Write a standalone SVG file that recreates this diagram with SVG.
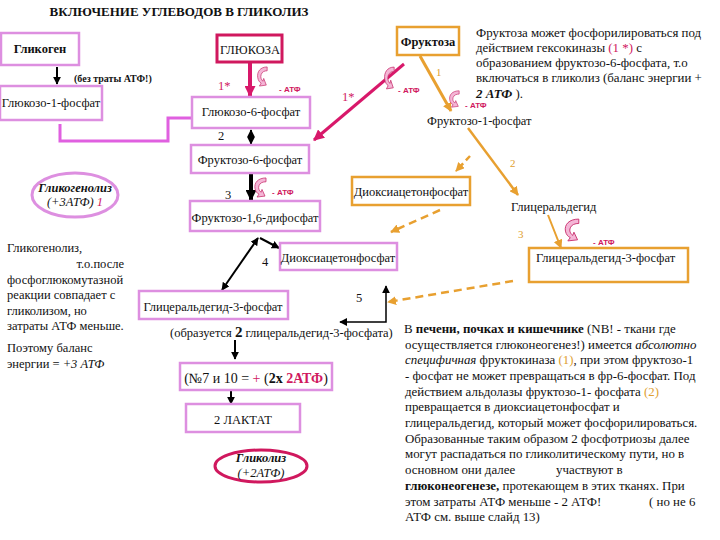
<svg xmlns="http://www.w3.org/2000/svg" xmlns:xlink="http://www.w3.org/1999/xlink" width="720" height="540" viewBox="0 0 720 540">
<style>
text{font-family:"Liberation Serif","Times New Roman",serif;fill:#111;}
.t{font-size:12.5px;}
.s{font-size:12.5px;}
.n{font-size:12.9px;}
.b{font-weight:bold;}
.i{font-style:italic;}
text.atf{font-family:"Liberation Sans",Arial,sans-serif;font-size:8px;font-weight:bold;fill:#d0185e;}
.cr{fill:#d0185e;}
.or{fill:#e0a030;}
.vbox{fill:#fff;stroke:#dd8fe0;stroke-width:2.5;}
.obox{fill:#fff;stroke:#e8a030;stroke-width:2.5;}
.cbox{fill:#fff;stroke:#d0185e;stroke-width:3;}
.blk{stroke:#000;fill:none;}
.crl{stroke:#d8186a;fill:none;}
.orl{stroke:#e8a030;fill:none;}
.mid{text-anchor:middle;}
</style>
<defs>
<marker id="ab" viewBox="0 0 10 10" refX="9" refY="5" markerWidth="8" markerHeight="8" markerUnits="userSpaceOnUse" orient="auto-start-reverse"><path d="M0,0L10,5L0,10Z" fill="#000"/></marker>
<marker id="abw" viewBox="0 0 10 10" refX="9" refY="5" markerWidth="11" markerHeight="11" markerUnits="userSpaceOnUse" orient="auto"><path d="M0,0L10,5L0,10Z" fill="#000"/></marker>
<marker id="ac" viewBox="0 0 10 10" refX="9" refY="5" markerWidth="11" markerHeight="11" markerUnits="userSpaceOnUse" orient="auto"><path d="M0,0L10,5L0,10Z" fill="#d8186a"/></marker>
<marker id="ao" viewBox="0 0 10 10" refX="9" refY="5" markerWidth="9" markerHeight="9" markerUnits="userSpaceOnUse" orient="auto"><path d="M0,0L10,5L0,10Z" fill="#e8a030"/></marker>
<marker id="am" viewBox="0 0 10 10" refX="9" refY="5" markerWidth="10" markerHeight="10" markerUnits="userSpaceOnUse" orient="auto"><path d="M0,0L10,5L0,10Z" fill="#e060e0"/></marker>
<symbol id="curl" viewBox="0 0 14 22" preserveAspectRatio="none">
<path d="M13,1C5,1 1,6 2,12C2.5,15 4,17 6,18L4,21L12,20L9,13L8,16C6,14 5,12 6,9C7,6 10,5 13,5Z" fill="#f4b6d6" stroke="#c8306e" stroke-width="0.8"/>
</symbol>
</defs>
<rect width="720" height="540" fill="#fff"/>

<text x="179" y="16" class="b mid" style="font-size:13px">ВКЛЮЧЕНИЕ УГЛЕВОДОВ В ГЛИКОЛИЗ</text>

<g id="connectors">
<line x1="57" y1="67" x2="57" y2="84" class="blk" stroke-width="2" marker-end="url(#ab)"/>
<polyline points="60,124 60,141 168,141 168,118 212,118" stroke="#e060e0" stroke-width="3" fill="none" marker-end="url(#am)"/>
<line x1="250" y1="63" x2="250" y2="96" class="crl" stroke-width="4" marker-end="url(#ac)"/>
<line x1="251" y1="130" x2="251" y2="144" class="blk" stroke-width="2" marker-start="url(#ab)" marker-end="url(#ab)"/>
<line x1="251" y1="174" x2="251" y2="200" class="blk" stroke-width="4" marker-end="url(#abw)"/>
<line x1="258" y1="238" x2="222" y2="290" class="blk" stroke-width="2" marker-start="url(#ab)" marker-end="url(#ab)"/>
<line x1="260" y1="238" x2="279" y2="248" class="blk" stroke-width="2" marker-end="url(#ab)"/>
<polyline points="340,322 386,322 386,286" class="blk" stroke-width="1.5" marker-start="url(#ab)" marker-end="url(#ab)"/>
<line x1="235" y1="340" x2="235" y2="359" class="blk" stroke-width="2" marker-end="url(#ab)"/>
<line x1="231" y1="390" x2="231" y2="404" class="blk" stroke-width="2" marker-end="url(#ab)"/>
<line x1="404" y1="64" x2="314" y2="140" class="crl" stroke-width="3" marker-end="url(#ac)"/>
<line x1="420" y1="56" x2="451" y2="111" class="orl" stroke-width="3" marker-end="url(#ao)"/>
<line x1="468" y1="128" x2="518" y2="195" class="orl" stroke-width="2.5" marker-end="url(#ao)"/>
<line x1="548" y1="215" x2="561" y2="248" class="orl" stroke-width="2" marker-end="url(#ao)"/>
<line x1="470" y1="156" x2="456" y2="171" class="orl" stroke-width="2.5" stroke-dasharray="6,4" marker-end="url(#ao)"/>
<line x1="440" y1="210" x2="391" y2="232" class="orl" stroke-width="2.5" stroke-dasharray="8,5" marker-end="url(#ao)"/>
<line x1="513" y1="281" x2="388" y2="302" class="orl" stroke-width="2.5" stroke-dasharray="8,5" marker-end="url(#ao)"/>
</g>

<g id="curls">
<use xlink:href="#curl" x="256" y="66" width="12" height="21"/>
<use xlink:href="#curl" x="253" y="177" width="14" height="21"/>
<use xlink:href="#curl" x="383" y="66" width="12" height="24"/>
<use xlink:href="#curl" x="448" y="90" width="12" height="18"/>
<use xlink:href="#curl" x="563" y="218" width="17" height="24"/>
</g>

<g id="glycogen"><rect x="1" y="33" width="78" height="32" class="vbox"/><text x="40" y="53" class="b mid" style="font-size:12.5px">Гликоген</text></g>
<text x="74" y="82" class="b" style="font-size:10px">(без траты АТФ!)</text>
<g id="g1p"><rect x="0" y="86" width="102" height="34" class="vbox"/><text x="51" y="107" class="t mid">Глюкозо-1-фосфат</text></g>

<g id="glucose"><rect x="217" y="35" width="65" height="27" class="cbox"/><text x="250" y="54" class="t mid">ГЛЮКОЗА</text></g>
<text x="218" y="90" class="t cr">1*</text>
<text x="279" y="92" class="atf">- АТФ</text>

<g id="g6p"><rect x="192" y="97" width="118" height="31" class="vbox"/><text x="251" y="116" class="t mid">Глюкозо-6-фосфат</text></g>
<text x="218" y="140" class="t">2</text>
<g id="f6p"><rect x="191" y="145" width="118" height="28" class="vbox"/><text x="250" y="164" class="t mid">Фруктозо-6-фосфат</text></g>
<text x="225" y="199" class="t">3</text>
<text x="272" y="195" class="atf">- АТФ</text>
<g id="f16"><rect x="190" y="201" width="130" height="30" class="vbox"/><text x="255" y="222" class="t mid">Фруктозо-1,6-дифосфат</text></g>

<g id="glycogenolysis"><ellipse cx="75" cy="195" rx="43" ry="22" fill="#fff" stroke="#dd8fe0" stroke-width="3"/>
<text x="75" y="192" class="b i mid" style="font-size:12.5px">Гликогенолиз</text>
<text x="75" y="206" class="i mid" style="font-size:12.5px">(+3АТФ) <tspan class="cr">1</tspan></text></g>

<g id="fructose"><rect x="397" y="27" width="62" height="28" class="obox"/><text x="428" y="46" class="b mid" style="font-size:12.5px">Фруктоза</text></g>
<text x="436" y="76" class="or" style="font-size:11px">1</text>
<text x="342" y="101" class="t cr">1*</text>
<text x="398" y="93" class="atf">- АТФ</text>
<text x="465" y="108" class="atf">- АТФ</text>

<g id="fructose-note">
<text x="476" y="37" class="n">Фруктоза может фосфорилироваться под</text>
<text x="476" y="52" class="n">действием гексокиназы  <tspan class="cr">(1 *)</tspan> с</text>
<text x="476" y="67" class="n">образованием фруктозо-6-фосфата, т.о</text>
<text x="476" y="82" class="n">включаться в гликолиз (баланс энергии +</text>
<text x="476" y="98" class="n"><tspan class="b i">2 АТФ</tspan> ).</text>
</g>

<g id="f1p"><text x="427" y="125" class="t">Фруктозо-1-фосфат</text></g>
<text x="510" y="167" class="or" style="font-size:11px">2</text>
<g id="dhap1"><rect x="352" y="177" width="118" height="28" class="obox" stroke-width="2"/><text x="411" y="196" class="t mid">Диоксиацетонфосфат</text></g>
<g id="glyceraldehyde"><text x="511" y="211" class="t">Глицеральдегид</text></g>
<text x="518" y="238" class="or" style="font-size:11px">3</text>
<text x="593" y="245" class="atf">- АТФ</text>
<g id="g3p-right"><rect x="529" y="248" width="159" height="34" class="obox"/><text x="536" y="262" class="t">Глицеральдегид-3-фосфат</text></g>

<g id="dhap2"><rect x="280" y="243" width="117" height="27" class="vbox"/><text x="338" y="262" class="t mid">Диоксиацетонфосфат</text></g>
<text x="262" y="266" class="t">4</text>
<g id="g3p-left"><rect x="139" y="291" width="149" height="28" class="vbox"/><text x="213" y="311" class="t mid">Глицеральдегид-3-фосфат</text></g>
<text x="356" y="302" class="t">5</text>
<text x="170" y="337" class="t">(образуется <tspan class="b" style="font-size:15px">2</tspan> глицеральдегид-3-фосфата)</text>

<g id="atp-box"><rect x="180" y="363" width="152" height="27" class="vbox"/><text x="256" y="383" class="mid" style="font-size:14px">(№7 и 10 = <tspan class="cr">+</tspan> (<tspan class="b">2х</tspan> <tspan class="b cr">2АТФ</tspan>)</text></g>
<g id="lactate"><rect x="186" y="404" width="114" height="28" class="vbox"/><text x="243" y="424" class="t mid">2 ЛАКТАТ</text></g>
<g id="glycolysis"><ellipse cx="261" cy="466" rx="46" ry="16" fill="#fff" stroke="#d0185e" stroke-width="3"/>
<text x="261" y="462" class="b i mid" style="font-size:12.5px">Гликолиз</text>
<text x="261" y="477" class="i mid" style="font-size:12.5px">(+2АТФ)</text></g>

<g id="left-note">
<text x="7" y="252" class="s">Гликогенолиз,</text>
<text x="124" y="268" class="s" text-anchor="end">т.о.после</text>
<text x="7" y="284" class="s">фосфоглюкомутазной</text>
<text x="7" y="299" class="s">реакции совпадает  с</text>
<text x="7" y="315" class="s">гликолизом, но</text>
<text x="7" y="330" class="s">затраты АТФ меньше.</text>
<text x="7" y="352" class="s">Поэтому баланс</text>
<text x="7" y="368" class="s">энергии = <tspan class="i">+3 АТФ</tspan></text>
</g>

<g id="right-note">
<text x="404" y="333" class="n">В <tspan class="b">печени, почках и кишечнике</tspan> (NB! - ткани где</text>
<text x="405" y="349" class="n">осуществляется глюконеогенез!) имеется <tspan class="i">абсолютно</tspan></text>
<text x="405" y="364" class="n"><tspan class="i">специфичная</tspan> фруктокиназа <tspan class="or">(1)</tspan>, при этом фруктозо-1</text>
<text x="405" y="380" class="n">- фосфат не может превращаться в фр-6-фосфат. Под</text>
<text x="405" y="396" class="n">действием альдолазы фруктозо-1- фосфата  <tspan class="or">(2)</tspan></text>
<text x="405" y="411" class="n">превращается в диоксиацетонфосфат и</text>
<text x="405" y="427" class="n">глицеральдегид, который может фосфорилироваться.</text>
<text x="405" y="443" class="n">Образованные таким образом 2 фосфотриозы далее</text>
<text x="405" y="458" class="n">могут распадаться по гликолитическому пути, но в</text>
<text x="405" y="474" class="n">основном они далее <tspan x="556">участвуют в</tspan></text>
<text x="405" y="490" class="n"><tspan class="b">глюконеогенезе,</tspan> протекающем в этих тканях. При</text>
<text x="405" y="506" class="n">этом затраты АТФ меньше - 2 АТФ! <tspan x="649">( но не 6</tspan></text>
<text x="405" y="521" class="n">АТФ см. выше слайд 13)</text>
</g>
</svg>
